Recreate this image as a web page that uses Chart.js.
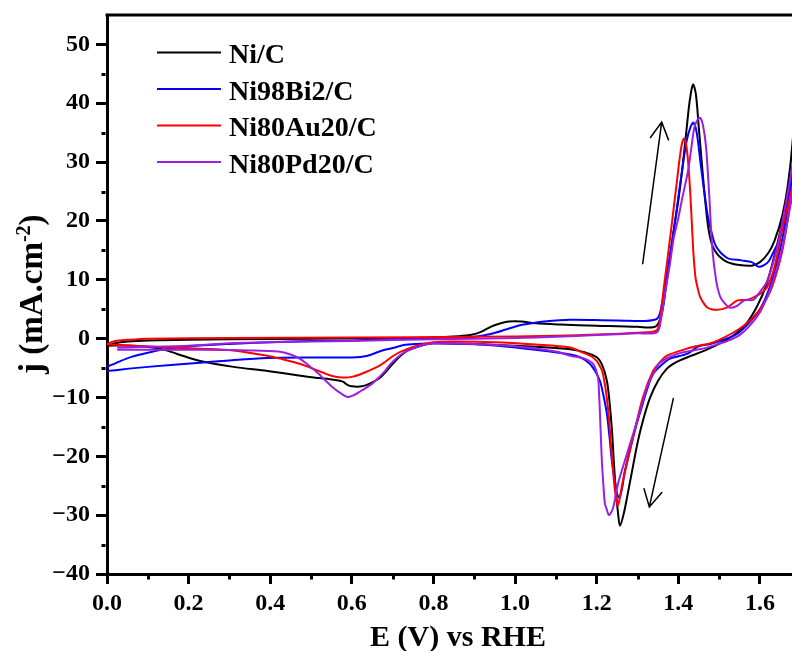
<!DOCTYPE html>
<html>
<head>
<meta charset="utf-8">
<script src="https://cdn.jsdelivr.net/npm/chart.js@4.4.1/dist/chart.umd.min.js"></script>
<style>
  html, body { margin: 0; padding: 0; background: #ffffff; }
  #wrap { width: 792px; height: 651px; }
</style>
</head>
<body>
<div id="wrap"><canvas id="cv" width="792" height="651"></canvas></div>
<script>
// Cyclic voltammograms, j (mA/cm2) vs E (V vs RHE); each series is [E, j] in scan order
const seriesNames  = ['Ni/C', 'Ni98Bi2/C', 'Ni80Au20/C', 'Ni80Pd20/C'];
const seriesColors = ['#000000', '#0000FF', '#FF0000', '#9B1FE0'];

const niC = [
  [0.000,-1.3],[0.020,-0.8],[0.050,-0.5],[0.100,-0.3],[0.200,-0.2],[0.300,-0.1],[0.500,0.0],[0.700,0.1],
  [0.800,0.2],[0.860,0.4],[0.890,0.6],[0.915,1.1],[0.940,2.0],[0.965,2.6],[0.985,2.9],[1.015,2.9],
  [1.050,2.6],[1.110,2.4],[1.200,2.2],[1.300,2.0],[1.345,2.1],[1.360,4.5],[1.370,9.0],[1.380,14.0],
  [1.390,19.0],[1.400,23.5],[1.410,29.0],[1.420,35.5],[1.428,40.5],[1.436,43.2],[1.443,41.5],[1.450,36.0],
  [1.457,30.3],[1.465,24.0],[1.473,19.0],[1.481,16.3],[1.489,15.0],[1.500,14.0],[1.520,13.0],[1.550,12.5],
  [1.580,12.4],[1.600,13.0],[1.620,14.5],[1.636,16.7],[1.655,21.0],[1.671,27.4],[1.683,36.0],[1.700,52.0],
  [1.685,36.0],[1.670,27.0],[1.655,20.0],[1.635,14.0],[1.615,9.0],[1.593,5.5],[1.566,2.5],[1.534,0.5],
  [1.502,-0.8],[1.478,-1.6],[1.455,-2.3],[1.421,-3.2],[1.395,-4.0],[1.372,-5.1],[1.350,-7.2],[1.331,-10.0],
  [1.315,-13.5],[1.301,-17.4],[1.288,-22.0],[1.277,-26.0],[1.267,-29.5],[1.257,-31.8],[1.252,-29.5],[1.247,-26.0],
  [1.242,-21.0],[1.2375,-15.7],[1.231,-10.5],[1.225,-7.2],[1.214,-4.6],[1.201,-3.2],[1.170,-2.3],[1.135,-1.8],
  [1.100,-1.6],[1.000,-1.2],[0.900,-0.9],[0.800,-0.8],[0.770,-1.2],[0.737,-2.0],[0.715,-3.2],[0.700,-4.3],
  [0.685,-5.5],[0.670,-6.6],[0.645,-7.6],[0.625,-8.1],[0.600,-8.1],[0.588,-7.8],[0.578,-7.3],[0.555,-7.0],
  [0.520,-6.7],[0.474,-6.3],[0.393,-5.5],[0.310,-4.8],[0.228,-3.8],[0.172,-2.6],[0.130,-1.7],[0.064,-1.2],
  [0.000,-1.2]
];

const niBi = [
  [0.000,-4.8],[0.030,-3.9],[0.060,-3.1],[0.100,-2.4],[0.150,-1.7],[0.200,-1.3],[0.300,-0.9],[0.400,-0.6],
  [0.500,-0.4],[0.600,-0.3],[0.700,-0.1],[0.800,0.0],[0.850,0.1],[0.900,0.3],[0.940,0.8],[0.975,1.5],
  [1.007,2.2],[1.040,2.6],[1.071,2.9],[1.135,3.2],[1.250,3.1],[1.346,3.3],[1.360,6.0],[1.370,10.0],
  [1.380,14.5],[1.390,19.0],[1.400,24.0],[1.410,29.0],[1.420,33.5],[1.430,36.0],[1.437,36.7],[1.445,35.0],
  [1.455,29.5],[1.464,24.7],[1.473,20.5],[1.482,17.9],[1.490,16.0],[1.499,15.0],[1.510,14.2],[1.523,13.6],
  [1.555,13.3],[1.580,13.0],[1.590,12.5],[1.597,12.2],[1.610,12.5],[1.622,13.2],[1.635,15.0],[1.646,16.5],
  [1.660,20.5],[1.673,26.0],[1.683,31.0],[1.700,44.0],
  [1.685,31.0],[1.670,23.0],[1.655,17.0],[1.638,12.0],[1.620,8.0],[1.600,5.0],[1.575,2.8],[1.544,0.8],
  [1.510,-0.2],[1.478,-0.9],[1.450,-1.3],[1.421,-2.6],[1.380,-3.4],[1.360,-4.4],[1.338,-6.0],[1.325,-8.3],
  [1.313,-11.0],[1.300,-14.0],[1.289,-16.8],[1.269,-22.5],[1.262,-25.5],[1.255,-27.0],[1.250,-26.4],[1.244,-24.0],
  [1.2375,-21.0],[1.231,-16.5],[1.225,-12.8],[1.216,-9.5],[1.208,-7.2],[1.196,-5.5],[1.1835,-4.3],[1.160,-3.2],
  [1.135,-2.7],[1.050,-1.9],[0.958,-1.2],[0.880,-0.9],[0.800,-0.8],[0.760,-0.9],[0.727,-1.1],[0.700,-1.6],
  [0.671,-2.1],[0.639,-2.9],[0.600,-3.2],[0.500,-3.2],[0.393,-3.3],[0.300,-3.7],[0.228,-4.1],[0.100,-4.8],
  [0.000,-5.5]
];

const niAu = [
  [0.000,-0.9],[0.020,-0.4],[0.050,-0.2],[0.100,0.0],[0.300,0.1],[0.600,0.2],[0.900,0.3],[1.100,0.5],
  [1.200,0.7],[1.300,1.0],[1.347,1.4],[1.356,4.0],[1.365,9.0],[1.380,17.2],[1.390,23.0],[1.397,27.0],
  [1.403,30.5],[1.409,33.2],[1.414,34.0],[1.419,33.0],[1.424,30.0],[1.429,25.0],[1.4335,19.0],[1.437,14.5],
  [1.442,10.4],[1.448,8.4],[1.454,7.0],[1.471,5.3],[1.496,4.9],[1.520,5.3],[1.545,6.5],[1.569,6.6],
  [1.584,7.0],[1.600,7.6],[1.617,8.7],[1.635,12.0],[1.656,19.0],[1.683,27.0],[1.700,35.0],
  [1.683,26.0],[1.670,21.0],[1.655,15.0],[1.640,11.0],[1.625,8.0],[1.605,5.5],[1.583,3.6],[1.560,2.2],
  [1.534,1.0],[1.500,-0.2],[1.478,-0.8],[1.450,-1.2],[1.421,-1.7],[1.372,-2.9],[1.355,-4.0],[1.338,-5.5],
  [1.313,-10.0],[1.289,-16.8],[1.264,-24.2],[1.252,-28.3],[1.245,-26.0],[1.2375,-20.3],[1.2276,-11.8],[1.2154,-6.0],
  [1.205,-4.3],[1.191,-3.2],[1.160,-2.2],[1.135,-1.5],[1.050,-1.0],[0.950,-0.6],[0.850,-0.5],[0.800,-0.6],
  [0.760,-1.2],[0.720,-2.2],[0.700,-3.0],[0.670,-4.5],[0.630,-5.8],[0.600,-6.5],[0.575,-6.6],[0.550,-6.3],
  [0.530,-5.8],[0.500,-5.0],[0.474,-4.3],[0.430,-3.5],[0.393,-2.9],[0.310,-2.0],[0.228,-1.7],[0.147,-1.5],
  [0.064,-1.2],[0.000,-1.0]
];

const niPd = [
  [0.025,-1.5],[0.100,-1.4],[0.200,-1.2],[0.300,-0.8],[0.400,-0.6],[0.600,-0.4],[0.800,-0.1],[1.000,0.1],
  [1.100,0.3],[1.200,0.6],[1.300,0.9],[1.348,1.1],[1.358,3.5],[1.368,8.0],[1.379,12.5],[1.389,17.2],
  [1.400,20.5],[1.410,24.0],[1.424,28.6],[1.432,32.5],[1.439,35.8],[1.447,37.2],[1.454,37.5],[1.461,36.0],
  [1.468,32.5],[1.476,24.0],[1.483,15.5],[1.493,9.7],[1.502,7.2],[1.510,6.3],[1.525,5.3],[1.542,5.5],
  [1.562,6.5],[1.584,6.6],[1.595,7.5],[1.617,9.7],[1.642,15.5],[1.666,24.0],[1.683,31.0],[1.700,40.0],
  [1.683,27.0],[1.670,21.0],[1.655,15.5],[1.638,11.0],[1.620,7.5],[1.600,4.5],[1.575,2.2],[1.550,0.6],
  [1.520,-0.4],[1.490,-1.1],[1.460,-1.7],[1.397,-2.6],[1.355,-4.1],[1.340,-5.8],[1.323,-8.3],[1.299,-14.0],
  [1.274,-19.6],[1.252,-24.7],[1.240,-28.8],[1.230,-30.0],[1.2245,-29.0],[1.220,-28.0],[1.2165,-25.0],[1.213,-21.3],
  [1.210,-16.5],[1.208,-12.8],[1.2055,-9.0],[1.203,-6.6],[1.191,-4.3],[1.170,-3.4],[1.135,-2.9],[1.100,-2.2],
  [1.000,-1.3],[0.900,-0.9],[0.800,-0.8],[0.769,-1.2],[0.745,-1.8],[0.727,-2.4],[0.710,-3.3],[0.695,-4.3],
  [0.680,-5.6],[0.663,-6.8],[0.645,-7.9],[0.622,-8.9],[0.605,-9.6],[0.590,-9.9],[0.575,-9.4],[0.555,-8.4],
  [0.535,-7.1],[0.516,-5.8],[0.495,-4.6],[0.474,-3.5],[0.450,-2.7],[0.420,-2.2],[0.350,-2.0],[0.230,-1.9],
  [0.100,-1.9],[0.025,-1.9]
];

// Axis ticks
const xMajorTicks = [0.0, 0.2, 0.4, 0.6, 0.8, 1.0, 1.2, 1.4, 1.6];
const xMinorTicks = [0.1, 0.3, 0.5, 0.7, 0.9, 1.1, 1.3, 1.5];
const yMajorTicks = [-40, -30, -20, -10, 0, 10, 20, 30, 40, 50];
const yMinorTicks = [-35, -25, -15, -5, 5, 15, 25, 35, 45];

// Scan-direction arrows, [E, j] tail -> head
const scanArrows = [
  { from: [1.3127, 12.74], to: [1.3592, 36.79] },
  { from: [1.3877, -10.19], to: [1.3289, -28.60] }
];

const FONT = '"Liberation Serif", "Times New Roman", serif';
const seriesData = [niC, niBi, niAu, niPd];

const datasets = seriesData.map((pts, i) => ({
  label: seriesNames[i],
  data: pts.map(([E, j]) => ({ x: E, y: j })),
  showLine: true,
  borderColor: seriesColors[i],
  backgroundColor: seriesColors[i],
  borderWidth: 2,
  pointRadius: 0,
  tension: 0.3,
  borderJoinStyle: 'round',
  order: seriesData.length - i
}));

const decorations = {
  id: 'decorations',
  afterDraw(chart) {
    const { ctx, chartArea: a, scales: { x, y } } = chart;
    ctx.save();
    ctx.strokeStyle = '#000';
    ctx.fillStyle = '#000';

    // top frame line
    ctx.lineWidth = 3;
    ctx.lineCap = 'butt';
    ctx.beginPath();
    ctx.moveTo(a.left - 1.5, a.top);
    ctx.lineTo(a.right, a.top);
    ctx.stroke();

    // minor ticks
    ctx.beginPath();
    xMinorTicks.forEach(v => {
      const px = Math.round(x.getPixelForValue(v)) + 0.5;
      ctx.moveTo(px, a.bottom + 1.5);
      ctx.lineTo(px, a.bottom + 5.5);
    });
    yMinorTicks.forEach(v => {
      const py = Math.round(y.getPixelForValue(v)) + 0.5;
      ctx.moveTo(a.left - 1.5, py);
      ctx.lineTo(a.left - 5.5, py);
    });
    ctx.stroke();

    // scan-direction arrows
    ctx.lineWidth = 1.5;
    ctx.lineCap = 'round';
    scanArrows.forEach(({ from, to }) => {
      const x0 = x.getPixelForValue(from[0]), y0 = y.getPixelForValue(from[1]);
      const x1 = x.getPixelForValue(to[0]),   y1 = y.getPixelForValue(to[1]);
      const ang = Math.atan2(y1 - y0, x1 - x0);
      const L = 19, w = 0.5;
      ctx.beginPath();
      ctx.moveTo(x0, y0);
      ctx.lineTo(x1, y1);
      ctx.moveTo(x1 - L * Math.cos(ang - w), y1 - L * Math.sin(ang - w));
      ctx.lineTo(x1, y1);
      ctx.lineTo(x1 - L * Math.cos(ang + w), y1 - L * Math.sin(ang + w));
      ctx.stroke();
    });

    // legend
    ctx.lineCap = 'butt';
    ctx.font = 'bold 28px ' + FONT;
    ctx.textAlign = 'left';
    ctx.textBaseline = 'alphabetic';
    chart.data.datasets.forEach((ds, i) => {
      const cy = 52.5 + i * 36.5;
      ctx.strokeStyle = ds.borderColor;
      ctx.lineWidth = 2;
      ctx.beginPath();
      ctx.moveTo(157, cy);
      ctx.lineTo(221, cy);
      ctx.stroke();
      ctx.fillStyle = '#000';
      ctx.fillText(ds.label, 229, cy + 10.5);
    });

    // axis titles
    ctx.fillStyle = '#000';
    ctx.font = 'bold 30px ' + FONT;
    ctx.textAlign = 'center';
    ctx.fillText('E (V) vs RHE', 458, 646);

    ctx.save();
    ctx.translate(42, 0);
    ctx.rotate(-Math.PI / 2);
    ctx.textAlign = 'left';
    const big = 'bold 33px ' + FONT, small = 'bold 20px ' + FONT;
    const p1 = 'j (mA.cm', p2 = '-2', p3 = ')';
    ctx.font = big;   const w1 = ctx.measureText(p1).width;
    ctx.font = small; const w2 = ctx.measureText(p2).width;
    let sx = -374;
    ctx.font = big;   ctx.fillText(p1, sx, 0); sx += w1;
    ctx.font = small; ctx.fillText(p2, sx, -12); sx += w2;
    ctx.font = big;   ctx.fillText(p3, sx, 0);
    ctx.restore();

    ctx.restore();
  }
};

new Chart(document.getElementById('cv'), {
  type: 'scatter',
  data: { datasets },
  options: {
    responsive: false,
    animation: false,
    layout: { padding: { top: 15, right: 0, bottom: 0, left: 0 } },
    plugins: { legend: { display: false }, tooltip: { enabled: false } },
    scales: {
      x: {
        type: 'linear',
        position: 'bottom',
        min: 0,
        max: 1.6785,
        afterBuildTicks: s => { s.ticks = xMajorTicks.map(v => ({ value: v })); },
        afterFit: s => { s.height = 77; s.paddingLeft = 0; s.paddingRight = 0; },
        ticks: {
          color: '#000',
          font: { family: FONT, size: 24, weight: 'bold' },
          padding: 5,
          maxRotation: 0,
          callback: v => Number(v).toFixed(1)
        },
        grid: { drawOnChartArea: false, drawTicks: true, tickLength: 10, tickWidth: 3, tickColor: '#000' },
        border: { display: true, color: '#000', width: 3 }
      },
      y: {
        type: 'linear',
        position: 'left',
        min: -40,
        max: 55,
        afterBuildTicks: s => { s.ticks = yMajorTicks.map(v => ({ value: v })); },
        afterFit: s => { s.width = 107; s.paddingTop = 0; s.paddingBottom = 0; },
        ticks: {
          color: '#000',
          font: { family: FONT, size: 24, weight: 'bold' },
          padding: 6,
          callback: v => (v < 0 ? '\u2212' + Math.abs(v) : String(v))
        },
        grid: { drawOnChartArea: false, drawTicks: true, tickLength: 11, tickWidth: 3, tickColor: '#000' },
        border: { display: true, color: '#000', width: 3 }
      }
    }
  },
  plugins: [decorations]
});
</script>
</body>
</html>
